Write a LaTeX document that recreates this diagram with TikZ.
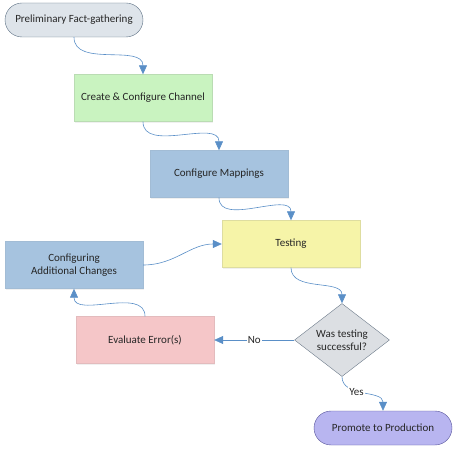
\documentclass[tikz,border=0pt]{standalone}
\usepackage{fontspec}
\setmainfont{Carlito}
\usepackage{xcolor}
\usetikzlibrary{positioning, shapes.geometric, arrows.meta, shadows}

\definecolor{termgray}{HTML}{DEE4EA}
\definecolor{termline}{HTML}{5B6E82}
\definecolor{boxgreen}{HTML}{C9F3C0}
\definecolor{boxblue}{HTML}{A6C3DF}
\definecolor{boxyellow}{HTML}{F6F4A8}
\definecolor{boxpink}{HTML}{F5C6C8}
\definecolor{decgray}{HTML}{DCDFE3}
\definecolor{decline}{HTML}{6C7A89}
\definecolor{termpurple}{HTML}{B8B5F0}
\definecolor{purpline}{HTML}{56539A}
\definecolor{flowblue}{HTML}{5A8FC7}

\tikzset{
    every node/.style={font=\fontsize{11}{13}\selectfont, align=center, text=black!85},
    terminal/.style={rectangle, rounded corners=17pt, draw, minimum width=138pt, minimum height=34pt},
    process/.style={rectangle, minimum width=138pt, minimum height=47pt,
        drop shadow={opacity=0.12, shadow xshift=1pt, shadow yshift=-1.5pt}},
    decision/.style={diamond, draw=decline, fill=decgray, inner sep=0pt,
        minimum width=95pt, minimum height=73pt},
    flow/.style={draw=flowblue, line width=0.6pt, -{Triangle[width=8pt,length=9pt]}},
    answer/.style={fill=white, inner sep=1pt}
}

\begin{document}
\begin{tikzpicture}[x=1pt, y=-1pt, on grid]
    \useasboundingbox (0,0) rectangle (458,454);
    % nodes
    \node (start) [terminal, draw=termline, fill=termgray] at (74,20) {Preliminary Fact-gathering};
    \node (create) [process, fill=boxgreen, draw=boxgreen!80!gray, below right=78pt and 69pt of start] {Create \& Configure Channel};
    \node (mappings) [process, fill=boxblue, draw=boxblue!90!gray, below right=76pt and 76pt of create] {Configure Mappings};
    \node (testing) [process, fill=boxyellow, draw=boxyellow!80!gray, below right=70pt and 72pt of mappings] {Testing};
    \node (changes) [process, fill=boxblue, draw=boxblue!90!gray, below left=21pt and 217pt of testing] {Configuring\\Additional Changes};
    \node (check) [decision, below right=96pt and 51pt of testing] {Was testing\\successful?};
    \node (errors) [process, fill=boxpink, draw=boxpink!85!gray, left=197pt of check] {Evaluate Error(s)};
    \node (promote) [terminal, draw=purpline, fill=termpurple, below right=88pt and 41pt of check] {Promote to Production};
    % connectors
    \draw[flow] (start.south) to[out=-90, in=90] (create.north);
    \draw[flow] (create.south) to[out=-90, in=90] (mappings.north);
    \draw[flow] (mappings.south) to[out=-90, in=90] (testing.north);
    \draw[flow] (testing.south) to[out=-90, in=90] (check.north);
    \draw[flow] (check.west) -- node[answer] {No} (errors.east);
    \draw[flow] (check.south) to[out=-90, in=90] node[answer, pos=0.4] {Yes} (promote.north);
    \draw[flow] (errors.north) to[out=90, in=-90] (changes.south);
    \draw[flow] (changes.east) to[out=0, in=180] (testing.west);
\end{tikzpicture}
\end{document}
